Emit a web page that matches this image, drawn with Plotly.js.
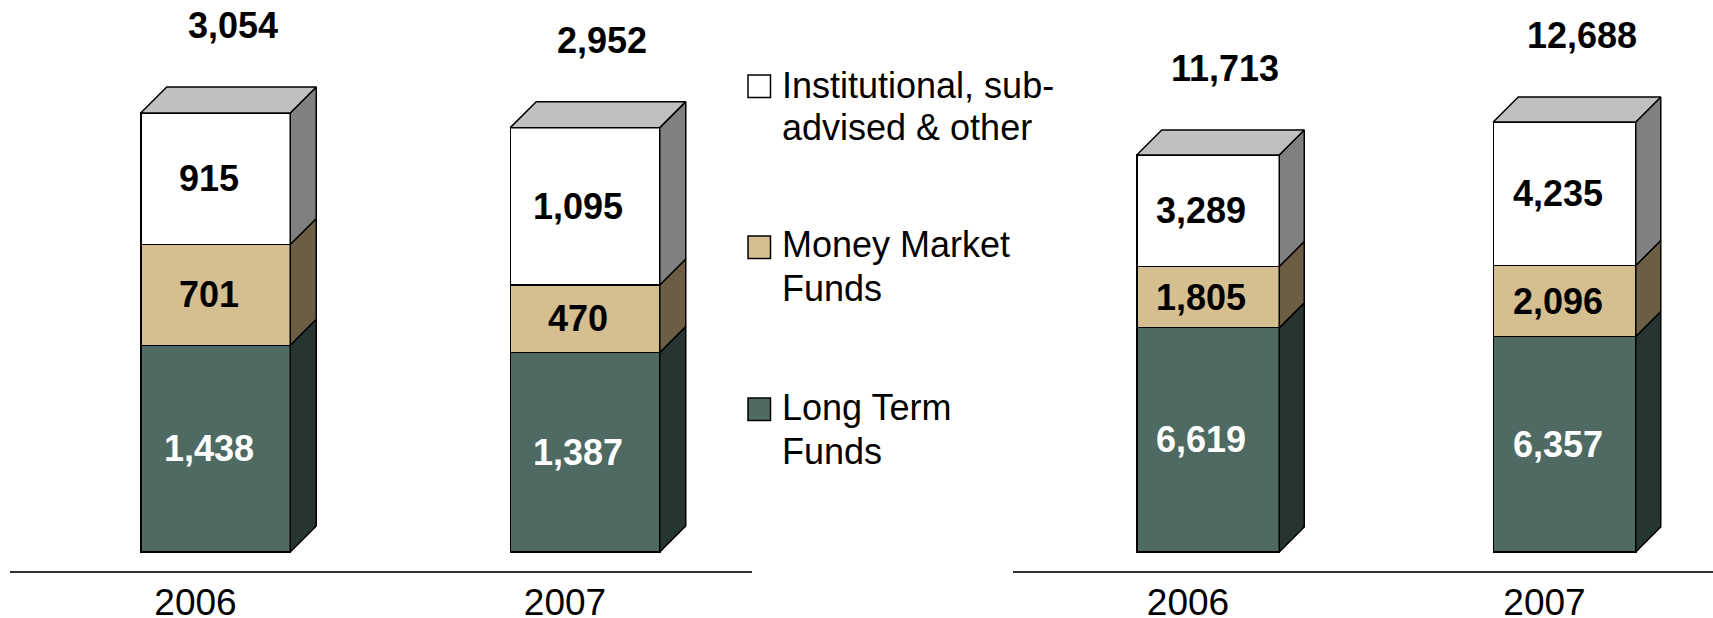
<!DOCTYPE html>
<html><head><meta charset="utf-8">
<script src="https://cdn.plot.ly/plotly-3.0.1.min.js"></script>
<style>html,body{margin:0;padding:0;background:#fff;} #chart{width:1713px;height:618px;}</style>
</head><body><div id="chart"></div>
<script>
// ---- data ----
const years = ['2006', '2007'];
const seriesNames = ['Long Term Funds', 'Money Market Funds', 'Institutional, sub-advised & other'];
const leftLongTerm = [1438, 1387];
const leftMoneyMarket = [701, 470];
const leftInstitutional = [915, 1095];
const leftTotals = [3054, 2952];
const rightLongTerm = [6619, 6357];
const rightMoneyMarket = [1805, 2096];
const rightInstitutional = [3289, 4235];
const rightTotals = [11713, 12688];
const legendLines = [
  ['Institutional, sub-', 'advised & other'],
  ['Money Market', 'Funds'],
  ['Long Term', 'Funds']
];

// ---- styling / geometry ----
const W = 1713, H = 618;
const FONT = 'Arial, "Liberation Sans", sans-serif';
const frontColors = ['#4e6a63', '#d5be90', '#ffffff'];
const sideColors = ['#263532', '#6b5e45', '#808080'];
const topColor = '#c0c0c0';
const labelColors = ['#ffffff', '#000000', '#000000'];
const legendOrder = [2, 1, 0];
const baselineY = 571, zeroY = 552;

const panels = [
  { series: [leftLongTerm, leftMoneyMarket, leftInstitutional], totals: leftTotals,
    x0: 10, x1: 752, c0: 215.5, c1: 585, barPx: 149.5, depth: 26, pyU: 0.14375, ax: '' },
  { series: [rightLongTerm, rightMoneyMarket, rightInstitutional], totals: rightTotals,
    x0: 1013, x1: 1713, c0: 1208, c1: 1564.5, barPx: 142.5, depth: 25, pyU: 0.03389, ax: '2' }
];

const traces = [];
const annotations = [];
const shapes = [];
const layout = {
  width: W, height: H, margin: {l: 0, r: 0, t: 0, b: 0},
  paper_bgcolor: '#fff', plot_bgcolor: 'rgba(0,0,0,0)',
  barmode: 'stack', showlegend: false, hovermode: false,
  font: {family: FONT, color: '#000'}
};

const fmt = v => v.toLocaleString('en-US');
const idx = years.map((_, i) => i);

panels.forEach(p => {
  const pxX = p.c1 - p.c0;
  const xr0 = -(p.c0 - p.x0) / pxX;
  const xr1 = xr0 + (p.x1 - p.x0) / pxX;
  const yr0 = -(baselineY - zeroY) / p.pyU;
  const yr1 = zeroY / p.pyU;
  const xa = 'x' + p.ax, ya = 'y' + p.ax;
  const barU = p.barPx / pxX;
  const dxU = p.depth / pxX, dyU = p.depth / p.pyU;

  layout['xaxis' + p.ax] = {
    domain: [p.x0 / W, p.x1 / W], range: [xr0, xr1], anchor: ya,
    showline: true, linecolor: '#333', linewidth: 1.5,
    showgrid: false, zeroline: false, ticks: '', ticklen: 0,
    tickvals: idx, ticktext: years, ticklabelshift: -20, ticklabelstandoff: -2,
    tickfont: {family: FONT, size: 37, color: '#000'}, fixedrange: true
  };
  layout['yaxis' + p.ax] = {
    domain: [(H - baselineY) / H, 1], range: [yr0, yr1], anchor: xa,
    visible: false, showgrid: false, zeroline: false, fixedrange: true
  };

  // front faces
  p.series.forEach((vals, s) => {
    traces.push({
      type: 'bar', x: idx, y: vals, width: barU, xaxis: xa, yaxis: ya,
      name: seriesNames[s],
      marker: {color: frontColors[s], line: {color: '#000', width: 1.5}},
      hoverinfo: 'skip'
    });
  });

  // side faces & top face, built from cumulative data
  const cum = idx.map(() => 0);
  p.series.forEach((vals, s) => {
    const xs = [], ys = [];
    idx.forEach(i => {
      const b = cum[i], t = cum[i] + vals[i];
      const xr = i + barU / 2;
      xs.push(xr, xr + dxU, xr + dxU, xr, xr, null);
      ys.push(b, b + dyU, t + dyU, t, b, null);
      annotations.push({
        xref: xa, yref: ya, x: i, y: (b + t) / 2, text: fmt(vals[i]),
        showarrow: false, xshift: -7, yanchor: 'middle',
        font: {family: FONT, size: 36, color: labelColors[s], weight: 'bold'}
      });
      cum[i] = t;
    });
    traces.push({
      type: 'scatter', mode: 'lines', x: xs, y: ys, xaxis: xa, yaxis: ya,
      fill: 'toself', fillcolor: sideColors[s],
      line: {color: '#000', width: 1.5}, hoverinfo: 'skip', cliponaxis: false
    });
  });
  const tx = [], ty = [];
  idx.forEach(i => {
    const T = cum[i];
    const xl = i - barU / 2, xr = i + barU / 2;
    tx.push(xl, xl + dxU, xr + dxU, xr, xl, null);
    ty.push(T, T + dyU, T + dyU, T, T, null);
    annotations.push({
      xref: xa, yref: ya, x: i, y: p.totals[i], text: fmt(p.totals[i]),
      showarrow: false, xshift: 17, yshift: 87, yanchor: 'middle',
      font: {family: FONT, size: 36, color: '#000', weight: 'bold'}
    });
  });
  traces.push({
    type: 'scatter', mode: 'lines', x: tx, y: ty, xaxis: xa, yaxis: ya,
    fill: 'toself', fillcolor: topColor,
    line: {color: '#000', width: 1.5}, hoverinfo: 'skip', cliponaxis: false
  });
});

// ---- legend (manual) ----
const legendTop = [75, 236, 398];
const legendBaselines = [[98.3, 140], [257.3, 301.7], [420.7, 464]];
legendOrder.forEach((s, k) => {
  shapes.push({
    type: 'rect', xref: 'paper', yref: 'paper',
    x0: 748 / W, x1: 770.5 / W, y0: 1 - legendTop[k] / H, y1: 1 - (legendTop[k] + 22.5) / H,
    fillcolor: frontColors[s], line: {color: '#000', width: 1.5}
  });
  legendLines[k].forEach((line, j) => {
    annotations.push({
      xref: 'paper', yref: 'paper', x: 781 / W, xanchor: 'left',
      y: 1 - (legendBaselines[k][j] - 13) / H, yanchor: 'middle',
      text: line, showarrow: false, borderpad: 0,
      font: {family: FONT, size: 36, color: '#000'}
    });
  });
});

layout.annotations = annotations;
layout.shapes = shapes;

Plotly.newPlot('chart', traces, layout, {displayModeBar: false, staticPlot: true});
</script>
</body></html>
